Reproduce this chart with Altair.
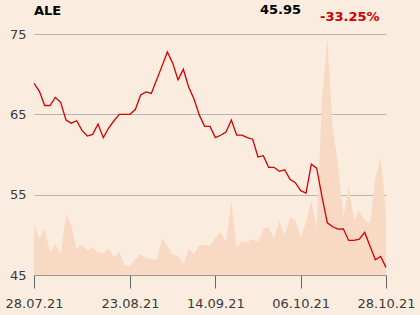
import altair as alt
import pandas as pd

dates = [d.strftime("%d.%m.%y") for d in pd.bdate_range("2021-07-28", "2021-10-28")]

price = [68.84, 67.9, 66.1, 66.1, 67.1, 66.5, 64.3, 63.9, 64.2, 63.0,
         62.3, 62.5, 63.8, 62.1, 63.3, 64.2, 65.0, 65.0, 65.0, 65.6,
         67.4, 67.8, 67.6, 69.3, 71.0, 72.76, 71.4, 69.3, 70.6, 68.4,
         66.9, 64.9, 63.5, 63.5, 62.1, 62.4, 62.8, 64.3, 62.4, 62.4,
         62.1, 61.9, 59.7, 59.85, 58.4, 58.4, 57.9, 58.1, 56.9, 56.5,
         55.5, 55.2, 58.8, 58.3, 54.75, 51.5, 51.0, 50.7, 50.75, 49.3,
         49.3, 49.45, 50.3, 48.6, 46.9, 47.3, 45.95]

volume = [50.7, 36.7, 46.7, 23.3, 31, 21, 61, 50, 26, 31,
          24.3, 27.7, 22.7, 21.7, 27, 17.7, 23.3, 9.7, 9, 15.7,
          21, 16.7, 16.3, 15, 37.3, 29, 21, 19, 11, 26,
          21, 30, 30, 29.3, 37.7, 43.3, 32.7, 74.3, 27.7, 33.3,
          33.3, 36, 33.3, 46, 47.7, 36.7, 54.3, 39, 58.3, 54.3,
          37.7, 53.3, 74.3, 46.7, 176, 237, 148, 110, 56.7, 90,
          55, 64.3, 54.3, 51.7, 96.7, 117.3, 63.3]

tick_dates = ["28.07.21", "23.08.21", "14.09.21", "06.10.21", "28.10.21"]
y_ticks = [45, 55, 65, 75]

ticker = "ALE"
last_price = "45.95"
change = "-33.25%"

df = pd.DataFrame({"date": dates, "price": price, "volume": volume})

FONT = "DejaVu Sans"

x_enc = alt.X("date:O", sort=None,
              scale=alt.Scale(type="point", padding=0),
              axis=alt.Axis(values=tick_dates, labelAngle=0, title=None,
                            labelFont=FONT, labelFontSize=13, labelColor="#3A3A3A",
                            domainColor="#999999", tickColor="#666666", tickSize=13,
                            labelPadding=9, grid=False))

area = alt.Chart(df).mark_area(color="#F8DAC4", opacity=1).encode(
    x=x_enc,
    y=alt.Y("volume:Q", scale=alt.Scale(domain=[0, 241]), axis=None),
)

line = alt.Chart(df).mark_line(color="#D40000", strokeWidth=1.3).encode(
    x=x_enc,
    y=alt.Y("price:Q", scale=alt.Scale(domain=[45, 75]),
            axis=alt.Axis(values=y_ticks, title=None, labelFont=FONT, labelFontSize=13,
                          labelColor="#3A3A3A", domain=False, ticks=False,
                          labelPadding=8, grid=True, gridColor="#B5B5B5", gridWidth=1)),
)

t1 = alt.Chart(pd.DataFrame({"t": [ticker]})).mark_text(
    align="left", baseline="alphabetic", font=FONT, fontSize=13, fontWeight="bold", color="#000000"
).encode(text="t:N", x=alt.value(0), y=alt.value(-19))

t2 = alt.Chart(pd.DataFrame({"t": [last_price]})).mark_text(
    align="left", baseline="alphabetic", font=FONT, fontSize=13, fontWeight="bold", color="#000000"
).encode(text="t:N", x=alt.value(226), y=alt.value(-20))

t3 = alt.Chart(pd.DataFrame({"t": [change]})).mark_text(
    align="left", baseline="alphabetic", font=FONT, fontSize=13, fontWeight="bold", color="#CC0000"
).encode(text="t:N", x=alt.value(286), y=alt.value(-13))

chart = alt.layer(area, line, t1, t2, t3).resolve_scale(y="independent").properties(
    width=352, height=241,
    background="#FBECE0",
    padding={"left": 34, "top": 34, "right": 34, "bottom": 40},
    autosize=alt.AutoSizeParams(type="none"),
).configure_view(stroke=None)

chart.save("out.html", embed_options={"renderer": "svg", "actions": False})
